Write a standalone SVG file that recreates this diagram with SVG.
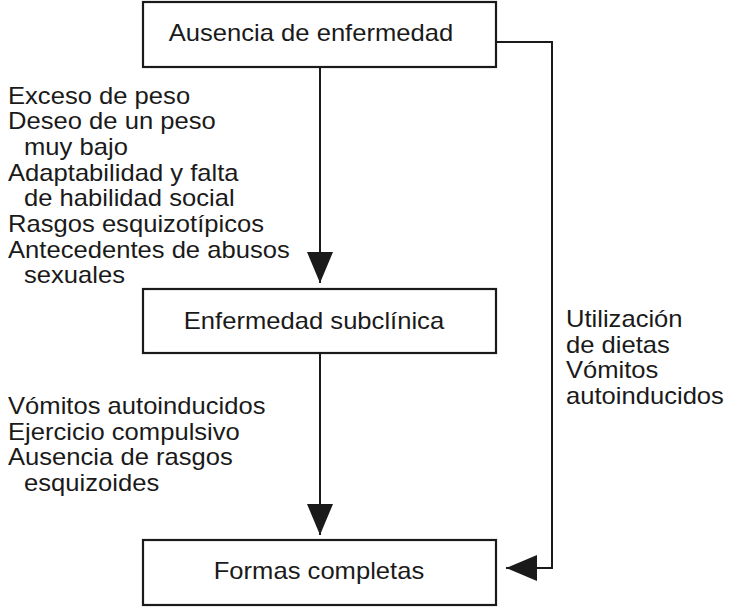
<svg xmlns="http://www.w3.org/2000/svg" width="730" height="607" viewBox="0 0 730 607">
<style>
text{font-family:"Liberation Sans",Arial,sans-serif;font-size:23px;fill:#1a1a1a}
.box{fill:#fff;stroke:#1a1a1a;stroke-width:2.2}
.ln{fill:none;stroke:#1a1a1a;stroke-width:2}
.c{text-anchor:middle}
</style>
<defs>
<marker id="ah" viewBox="0 0 31 26" refX="31" refY="13" markerWidth="31" markerHeight="26" markerUnits="userSpaceOnUse" orient="auto">
<path d="M0,0 L31,13 L0,26 Z" fill="#1a1a1a"/>
</marker>
</defs>
<rect width="730" height="607" fill="#fff"/>
<g id="connectors">
<line class="ln" x1="320" y1="67" x2="320" y2="283" marker-end="url(#ah)"/>
<line class="ln" x1="320" y1="353" x2="320" y2="535" marker-end="url(#ah)"/>
<polyline class="ln" points="496,42 552,42 552,568 506,568" marker-end="url(#ah)"/>
</g>
<g id="n1"><rect class="box" x="143" y="2" width="353" height="65"/><text class="c" transform="scale(1.113,1)" x="279.4" y="41">Ausencia de enfermedad</text></g>
<g id="n2"><rect class="box" x="143" y="289" width="353" height="64"/><text class="c" transform="scale(1.113,1)" x="282.1" y="329">Enfermedad subclínica</text></g>
<g id="n3"><rect class="box" x="143" y="540" width="353" height="65"/><text class="c" transform="scale(1.113,1)" x="286.6" y="579">Formas completas</text></g>
<g id="l1" transform="scale(1.113,1)">
<text x="7.2" y="104">Exceso de peso</text>
<text x="7.2" y="129">Deseo de un peso</text>
<text x="21.6" y="155">muy bajo</text>
<text x="7.2" y="181">Adaptabilidad y falta</text>
<text x="21.6" y="206">de habilidad social</text>
<text x="7.2" y="232">Rasgos esquizotípicos</text>
<text x="7.2" y="258">Antecedentes de abusos</text>
<text x="21.6" y="283">sexuales</text>
</g>
<g id="l2" transform="scale(1.113,1)">
<text x="7.2" y="414">Vómitos autoinducidos</text>
<text x="7.2" y="440">Ejercicio compulsivo</text>
<text x="7.2" y="465">Ausencia de rasgos</text>
<text x="21.6" y="491">esquizoides</text>
</g>
<g id="l3" transform="scale(1.113,1)">
<text x="508.5" y="327">Utilización</text>
<text x="508.5" y="353">de dietas</text>
<text x="508.5" y="378">Vómitos</text>
<text x="508.5" y="404">autoinducidos</text>
</g>
</svg>
